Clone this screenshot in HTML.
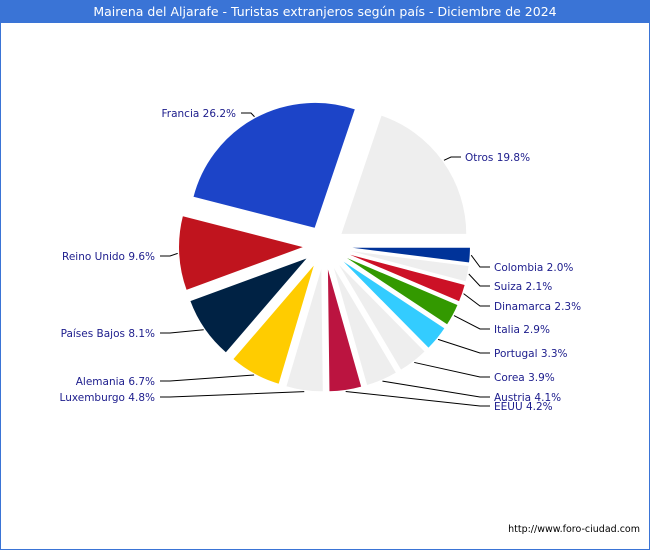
<!DOCTYPE html>
<html><head><meta charset="utf-8"><style>
html,body{margin:0;padding:0;background:#fff}
#wrap{position:relative;width:650px;height:550px;font-family:"DejaVu Sans","Liberation Sans",sans-serif}
</style></head><body>
<div id="wrap">
<svg id="chart" width="650" height="550" viewBox="0 0 650 550" xmlns="http://www.w3.org/2000/svg">
<rect x="0.5" y="0.5" width="649" height="549" fill="#fff" stroke="#3a74d6"/>
<rect x="0" y="0" width="650" height="23" fill="#3a74d6"/>
<text x="325" y="16" text-anchor="middle" fill="#fff" font-size="12.5">Mairena del Aljarafe - Turistas extranjeros según país - Diciembre de 2024</text>
<g id="slices"></g>
<g id="labels"></g>
<text x="640" y="532" text-anchor="end" fill="#000" font-size="9.5">http://www.foro-ciudad.com</text>
</svg>
</div>
<script>
const categories = ["Colombia","Suiza","Dinamarca","Italia","Portugal","Corea","Austria","EEUU","Luxemburgo","Alemania","Países Bajos","Reino Unido","Francia","Otros"];
const values = [2.0,2.1,2.3,2.9,3.3,3.9,4.1,4.2,4.8,6.7,8.1,9.6,26.2,19.8];
const colors = ["#003399","#eeeeee","#cc1126","#339900","#33ccff","#eeeeee","#eeeeee","#bb1440","#eeeeee","#ffcc00","#002244","#c0141e","#1c44c8","#eeeeee"];
const labelY = [267,286,306,329,353,377,397,406,397,381,333,256,113,157];
const labelX = [494,494,494,494,494,494,494,494,155,155,155,155,236,465];

const cx = 324.5, cy = 246, R = 126, D = 20;
const NS = "http://www.w3.org/2000/svg";
const total = values.reduce((a,b)=>a+b,0);
const gS = document.getElementById('slices');
const gL = document.getElementById('labels');
let acc = 0;
function pt(a, r, ox, oy){ return [ox + r*Math.cos(a), oy + r*Math.sin(a)]; }
values.forEach((v,i)=>{
  const a0 = acc/total*2*Math.PI; acc += v;
  const a1 = acc/total*2*Math.PI;
  const mid = (a0+a1)/2;
  const ox = cx + D*Math.cos(mid), oy = cy + D*Math.sin(mid);
  const p0 = pt(a0,R,ox,oy), p1 = pt(a1,R,ox,oy);
  const large = (a1-a0) > Math.PI ? 1 : 0;
  const path = document.createElementNS(NS,'path');
  path.setAttribute('d',`M${ox},${oy} L${p0[0]},${p0[1]} A${R},${R} 0 ${large} 1 ${p1[0]},${p1[1]} Z`);
  path.setAttribute('fill',colors[i]);
  path.setAttribute('stroke','#fff');
  path.setAttribute('stroke-width','1');
  
  
  gS.appendChild(path);

  const right = Math.cos(mid) > 0;
  const e = pt(mid, R+1, ox, oy);
  const y = labelY[i];
  const tx = labelX[i];
  const label = categories[i] + ' ' + v.toFixed(1) + '%';
  let elbow, lend;
  if (right) { lend = tx - 4; elbow = lend - 10; }
  else { lend = tx + 5; elbow = lend + 10; }
  const line = document.createElementNS(NS,'polyline');
  line.setAttribute('points',`${e[0]},${e[1]} ${elbow},${y} ${lend},${y}`);
  line.setAttribute('fill','none');
  line.setAttribute('stroke','#000');
  line.setAttribute('stroke-width','1');
  
  
  gL.appendChild(line);
  const t = document.createElementNS(NS,'text');
  t.setAttribute('x', tx);
  t.setAttribute('y', y+4);
  t.setAttribute('text-anchor', right ? 'start' : 'end');
  t.setAttribute('font-size','10.5');
  t.setAttribute('fill','#1c1c8c');
  t.textContent = label;
  
  
  gL.appendChild(t);
});
</script>
</body></html>
